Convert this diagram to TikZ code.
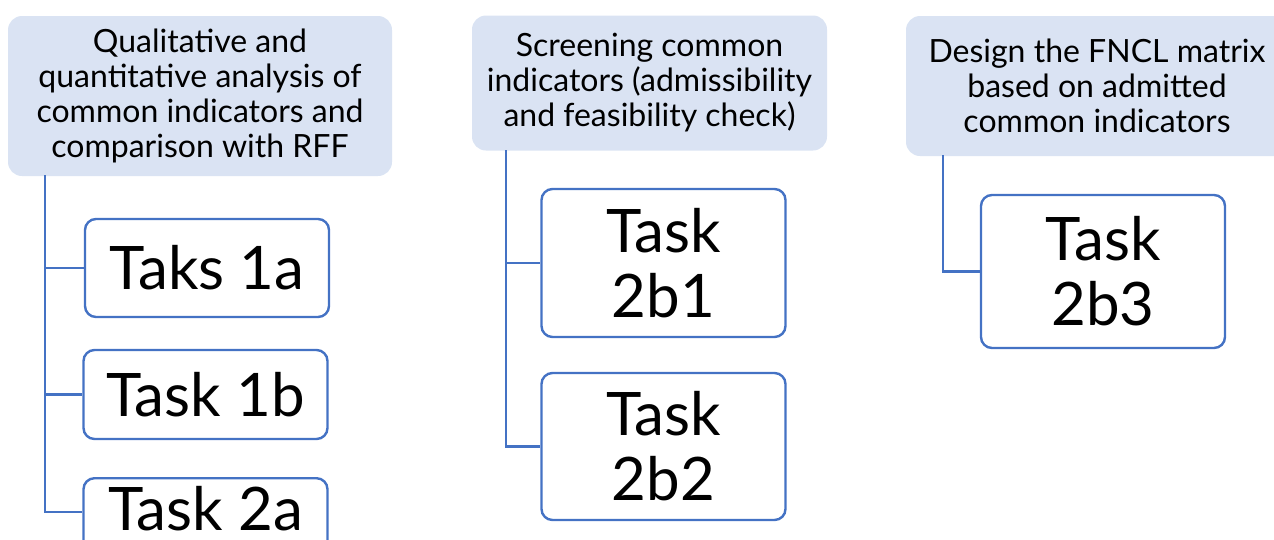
\documentclass[tikz,border=0pt]{standalone}
\usepackage{fontspec}
\setmainfont{Lato}
\definecolor{hdrfill}{HTML}{DAE3F3}
\definecolor{accent}{HTML}{4472C4}
\begin{document}
\begin{tikzpicture}[x=1pt,y=-1pt,
  header/.style={fill=hdrfill, rounded corners=14pt, align=center, inner sep=0pt,
    font=\fontsize{32}{35}\selectfont},
  taskbox/.style={draw=accent, line width=2.4pt, fill=white, rounded corners=11pt,
    align=center, inner sep=0pt, minimum width=244pt, font=\fontsize{60}{65}\selectfont},
  conn/.style={draw=accent, line width=2.2pt}]
\useasboundingbox (0,0) rectangle (1274,539);
\clip (0,0) rectangle (1274,539);

% column headers
\node[header, minimum width=384pt, minimum height=160pt] (h1) at (200,96)
  {Qualitative and\\quantitative analysis of\\common indicators and\\comparison with RFF};
\node[header, minimum width=355pt, minimum height=135pt] (h2) at (649.5,83)
  {Screening common\\indicators (admissibility\\and feasibility check)};
\node[header, minimum width=382pt, minimum height=140pt] (h3) at (1097,86)
  {Design the FNCL matrix\\based on admitted\\common indicators};

% task boxes
\node[taskbox, minimum height=98pt] (t1a) at (207,268) {Taks 1a};
\node[taskbox, minimum height=89pt] (t1b) at (205.5,394.5) {Task 1b};
\node[taskbox, minimum height=98pt, anchor=north, text height=46pt, text depth=39pt]
  (t2a) at (205.5,477) {Task 2a};
\node[taskbox, minimum height=148pt] (t2b1) at (663.5,263) {Task\\2b1};
\node[taskbox, minimum height=147pt] (t2b2) at (663.5,446.5) {Task\\2b2};
\node[taskbox, minimum height=153pt] (t2b3) at (1103,271.5) {Task\\2b3};

% connector stems
\coordinate (s1) at (45,175);
\coordinate (s2) at (506,150);
\coordinate (s3) at (943,155);

\draw[conn] (s1) |- (t1a.west);
\draw[conn] (s1) |- (t1b.west);
\draw[conn] (s1) |- ([yshift=-35pt]t2a.north west);
\draw[conn] (s2) |- (t2b1.west);
\draw[conn] (s2) |- (t2b2.west);
\draw[conn] (s3) |- (t2b3.west);
\end{tikzpicture}
\end{document}
